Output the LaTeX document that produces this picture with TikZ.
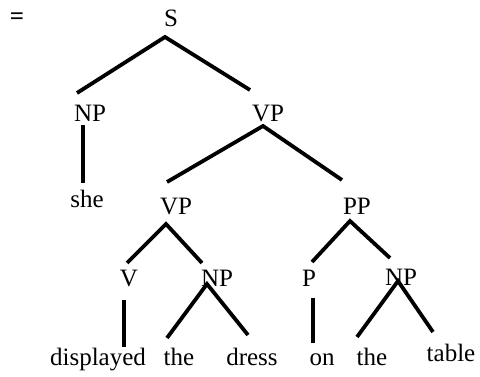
\documentclass[tikz,border=0pt]{standalone}
\usepackage{fontspec}
\setmainfont{Liberation Serif}
\usetikzlibrary{calc}
\begin{document}
\begin{tikzpicture}[x=1pt,y=-1pt,
  lbl/.style={anchor=base,inner sep=0pt,font=\fontsize{25}{30}\selectfont},
  br/.style={line width=3.8pt}]
\useasboundingbox[fill=white] (0,0) rectangle (480,377);
% labels
\node[lbl,font=\fontsize{25}{30}\selectfont\bfseries] (eq) at (17,24.5) {=};
\node[lbl] (S) at (171,27) {S};
\node[lbl] (NPa) at (90,122) {NP};
\node[lbl] (VPa) at (268,122) {VP};
\node[lbl] (she) at (87,208) {she};
\node[lbl] (VPb) at (176,215) {VP};
\node[lbl] (PP) at (357,215) {PP};
\node[lbl] (V) at (129,287) {V};
\node[lbl] (NPb) at (217,287) {NP};
\node[lbl] (P) at (309,287) {P};
\node[lbl] (NPc) at (401,286) {NP};
\node[lbl] (displayed) at (98,365) {displayed};
\node[lbl] (the1) at (179,365) {the};
\node[lbl] (dress) at (252,365) {dress};
\node[lbl] (on) at (322,365) {on};
\node[lbl] (the2) at (372,365) {the};
\node[lbl] (table) at (451,362) {table};
% branches
\draw[br] ($(NPa.base)+(-13,-29)$) -- ($(S.base)+(-6,10)$) -- ($(VPa.base)+(-18,-32)$);
\draw[br] ($(NPa.base)+(-7,3)$) -- ($(she.base)+(-4,-25)$);
\draw[br] ($(VPb.base)+(-9,-33)$) -- ($(VPa.base)+(-5,4)$) -- ($(PP.base)+(-15,-35)$);
\draw[br] ($(V.base)+(-2,-24)$) -- ($(VPb.base)+(-10,9)$) -- ($(NPb.base)+(-15,-24)$);
\draw[br] ($(P.base)+(3,-25)$) -- ($(PP.base)+(-7,6)$) -- ($(NPc.base)+(-11,-28)$);
\draw[br] ($(V.base)+(-5,13)$) -- ($(displayed.base)+(26,-18)$);
\draw[br] ($(the1.base)+(-12,-27)$) -- ($(NPb.base)+(-10,-3)$) -- ($(dress.base)+(-4,-30)$);
\draw[br] ($(P.base)+(4,11)$) -- ($(on.base)+(-9,-22)$);
\draw[br] ($(the2.base)+(-15,-28)$) -- ($(NPc.base)+(-3,-5)$) -- ($(table.base)+(-18,-30)$);
\end{tikzpicture}
\end{document}
